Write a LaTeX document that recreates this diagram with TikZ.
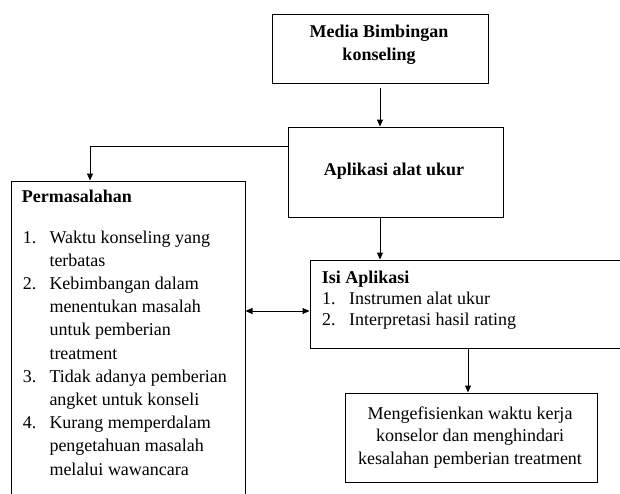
\documentclass[tikz,border=0pt]{standalone}
\usepackage{fontspec}
\setmainfont{Liberation Serif}
\usetikzlibrary{arrows.meta}
\begin{document}
\begin{tikzpicture}[x=1pt,y=-1pt,
  box/.style={draw,line width=1pt,inner sep=0pt},
  txt/.style={inner sep=0pt,font=\fontsize{18}{22}\selectfont},
  lt/.style={txt,anchor=base west},
  ct/.style={txt,anchor=base},
  blt/.style={lt,font=\fontsize{18}{22}\selectfont\bfseries},
  bct/.style={ct,font=\fontsize{18}{22}\selectfont\bfseries},
  arr/.style={line width=1pt,-{Triangle[length=7pt,width=6pt]}},
  darr/.style={line width=1pt,{Triangle[length=7pt,width=6pt]}-{Triangle[length=7pt,width=6pt]}},
]
\useasboundingbox (0,0) rectangle (620,493);
% boxes
\node[box,minimum width=216,minimum height=69] (media) at (380,48.5) {};
\node[box,minimum width=215,minimum height=90] (app) at (395.5,172) {};
\node[box,minimum width=234,minimum height=340] (perm) at (128,351) {};
\node[box,minimum width=340,minimum height=88] (isi) at (480,304) {};
\node[box,minimum width=252,minimum height=89] (meng) at (471,437.5) {};
% texts
\node[bct] (t1) at (379,37.3) {Media Bimbingan};
\node[bct] (t2) at (379,60) {konseling};
\node[bct] (t3) at (394,175) {Aplikasi alat ukur};
\node[blt] (p0) at (21.7,202.7) {Permasalahan};
\node[lt] (n1) at (22.7,243) {1.};
\node[lt] (p1) at (49.3,243) {Waktu konseling yang};
\node[lt] (p2) at (49.3,266.2) {terbatas};
\node[lt] (n2) at (22.7,289.4) {2.};
\node[lt] (p3) at (49.3,289.4) {Kebimbangan dalam};
\node[lt] (p4) at (49.3,312.6) {menentukan masalah};
\node[lt] (p5) at (49.3,335.8) {untuk pemberian};
\node[lt] (p6) at (49.3,359) {treatment};
\node[lt] (n3) at (22.7,382.2) {3.};
\node[lt] (p7) at (49.3,382.2) {Tidak adanya pemberian};
\node[lt] (p8) at (49.3,405.4) {angket untuk konseli};
\node[lt] (n4) at (22.7,428.6) {4.};
\node[lt] (p9) at (49.3,428.6) {Kurang memperdalam};
\node[lt] (p10) at (49.3,451.8) {pengetahuan masalah};
\node[lt] (p11) at (49.3,475) {melalui wawancara};
\node[blt] (i0) at (321.7,283.3) {Isi Aplikasi};
\node[lt] (m1) at (322,304.3) {1.};
\node[lt] (i1) at (349,304.3) {Instrumen alat ukur};
\node[lt] (m2) at (322,325.3) {2.};
\node[lt] (i2) at (349,325.3) {Interpretasi hasil rating};
\node[ct] (e1) at (470,419) {Mengefisienkan waktu kerja};
\node[ct] (e2) at (470,441.5) {konselor dan menghindari};
\node[ct] (e3) at (470,464) {kesalahan pemberian treatment};
% connectors
\coordinate (b1) at (90,146);
\coordinate (c1) at (380,0);
\coordinate (c2) at (0,311);
\coordinate (c3) at (468,0);
\draw[arr,shorten <=4pt] (media.south) -- (media.south |- app.north);
\draw[arr] (app.west |- b1) -| (perm.north -| b1);
\draw[arr] (app.south -| c1) -- (isi.north -| c1);
\draw[darr] (perm.east |- c2) -- (isi.west |- c2);
\draw[arr] (isi.south -| c3) -- (meng.north -| c3);
\end{tikzpicture}
\end{document}
